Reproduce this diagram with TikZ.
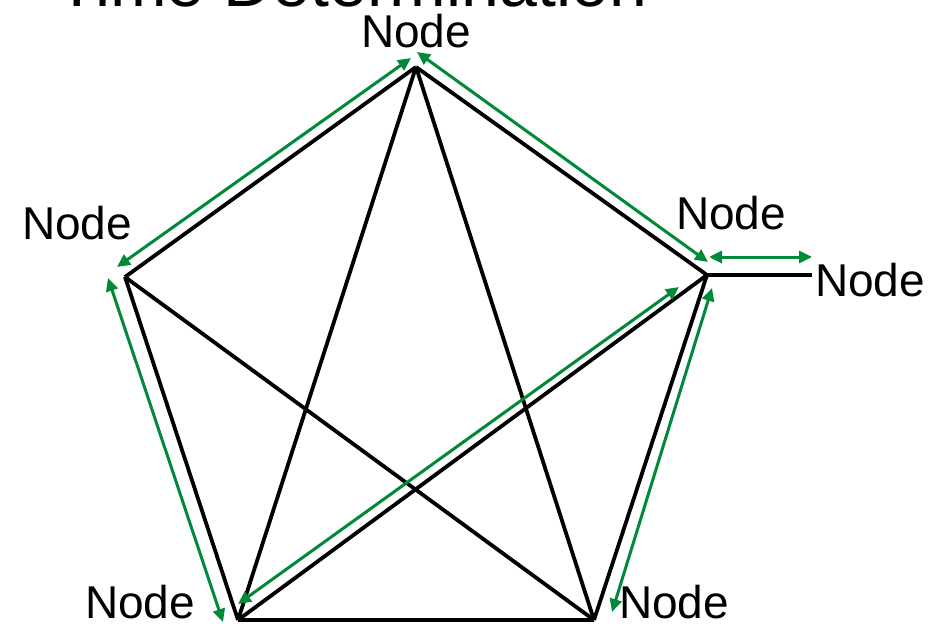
\documentclass[tikz,border=0pt]{standalone}
\usepackage{fontspec}
\setmainfont{Liberation Sans}
\usetikzlibrary{arrows.meta}
\definecolor{arrgreen}{RGB}{0,137,56}
\begin{document}
\begin{tikzpicture}[x=1pt,y=-1pt,
  edge/.style={line width=3.8pt,black},
  garrow/.style={line width=3pt,arrgreen,{Triangle[length=13pt,width=12pt]}-{Triangle[length=13pt,width=12pt]}},
  lbl/.style={font=\fontsize{46}{50}\selectfont,inner sep=0pt}]
\useasboundingbox (0,0) rectangle (941,623);
% vertices
\coordinate (T) at (416,67);
\coordinate (L) at (125,277);
\coordinate (BL) at (238,620);
\coordinate (BR) at (594,620);
\coordinate (R) at (707,275);
\coordinate (E) at (812,275);
% title (cut off)
\node[font=\fontsize{68}{72}\selectfont,anchor=base west,inner sep=0pt] (title) at (56,7) {Time Determination};
% labels
\node[lbl] (nT) at (416,31) {Node};
\node[lbl] (nL) at (77,223) {Node};
\node[lbl] (nR) at (731,213) {Node};
\node[lbl] (nE) at (870,280) {Node};
\node[lbl] (nBL) at (140,602) {Node};
\node[lbl] (nBR) at (674,602) {Node};
% black edges
\draw[edge] (T) -- (L);
\draw[edge] (T) -- (R);
\draw[edge] (T) -- (BL);
\draw[edge] (T) -- (BR);
\draw[edge] (L) -- (BL);
\draw[edge] (L) -- (BR);
\draw[edge] (BL) -- (BR);
\draw[edge] (BL) -- (R);
\draw[edge] (BR) -- (R);
\draw[edge] (R) -- (E);
% green arrow endpoints
\coordinate (g1a) at (117,267);
\coordinate (g1b) at (411,58);
\coordinate (g2a) at (417,52);
\coordinate (g2b) at (708,262);
\coordinate (g3a) at (709,257);
\coordinate (g3b) at (812,257);
\coordinate (g4a) at (712,288);
\coordinate (g4b) at (612,612);
\coordinate (g5a) at (679,287);
\coordinate (g5b) at (238,604);
\coordinate (g6a) at (108,278);
\coordinate (g6b) at (223,622);
\draw[garrow] (g1a) -- (g1b);
\draw[garrow] (g2a) -- (g2b);
\draw[garrow] (g3a) -- (g3b);
\draw[garrow] (g4a) -- (g4b);
\draw[garrow] (g5a) -- (g5b);
\draw[garrow] (g6a) -- (g6b);
\end{tikzpicture}
\end{document}
